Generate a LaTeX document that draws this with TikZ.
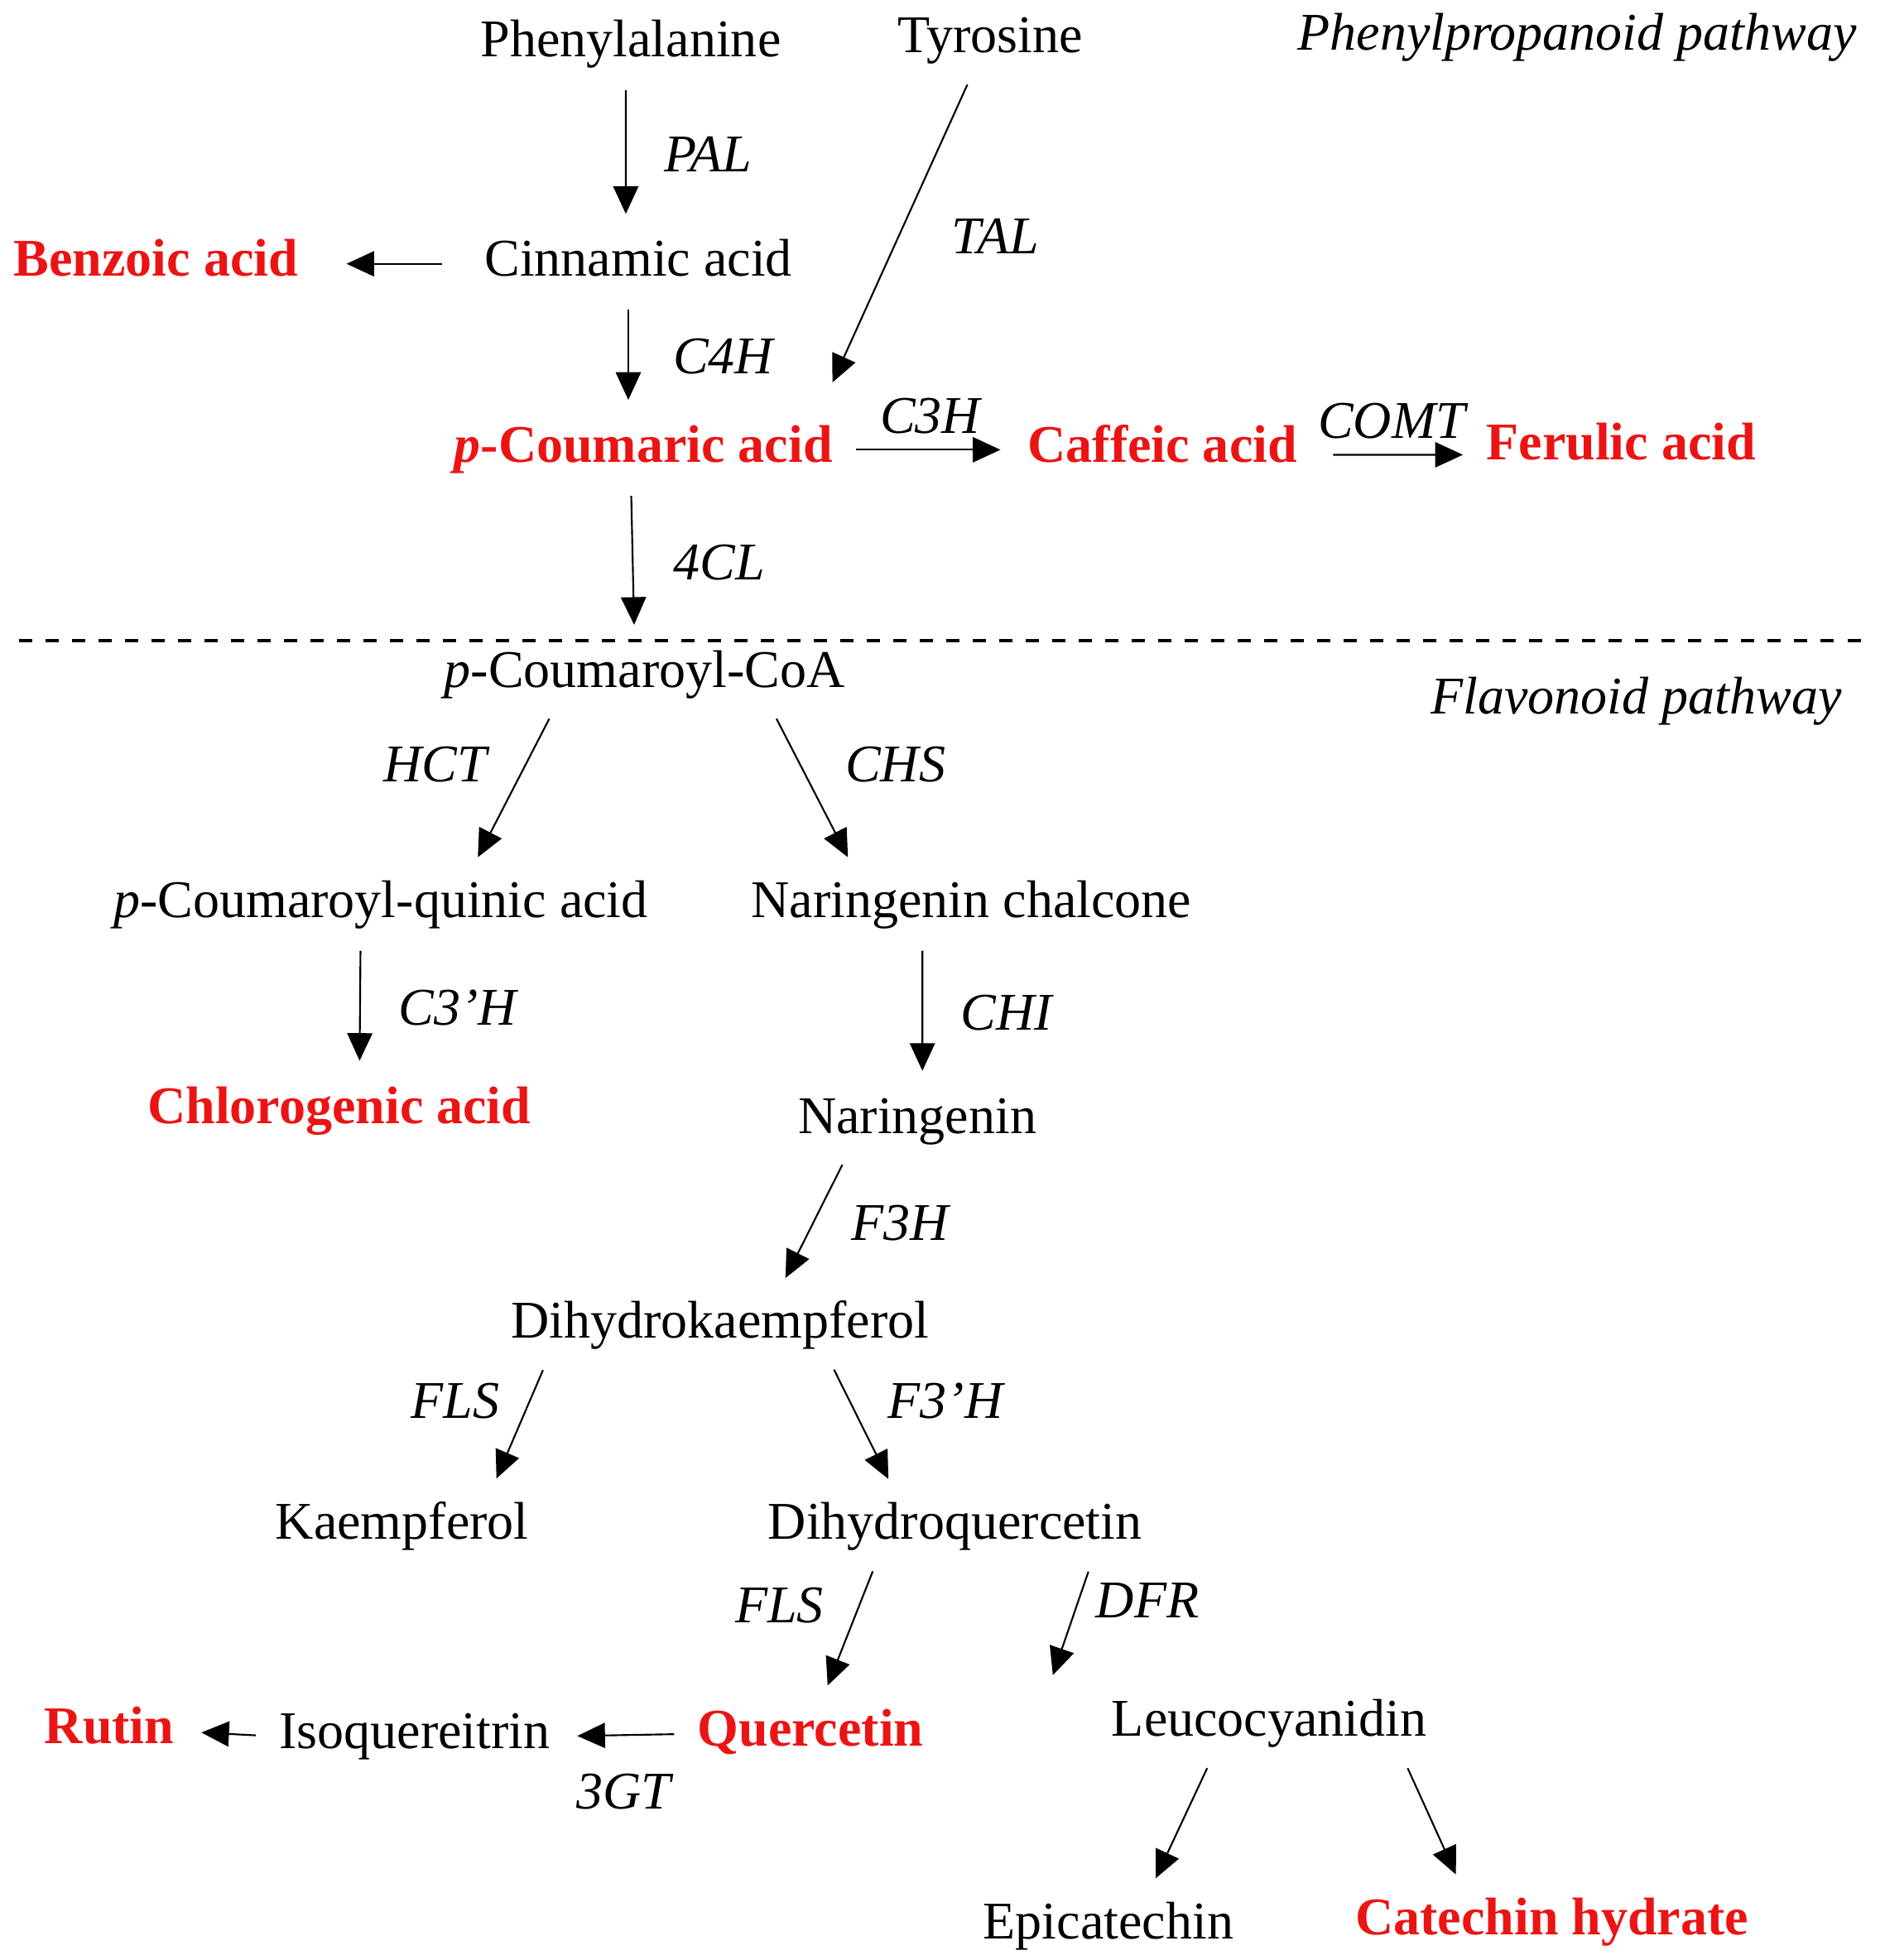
\documentclass[tikz,border=0pt]{standalone}
\usepackage{fontspec}
\setmainfont{Liberation Serif}
\usetikzlibrary{arrows.meta,positioning}
\definecolor{hl}{RGB}{235,20,20}
\tikzset{
  cpd/.style={inner sep=0.03cm, text height=0.28cm, text depth=0.08cm, font=\fontsize{12}{14}\selectfont},
  key/.style={cpd, text=hl, font=\fontsize{12}{14}\selectfont\bfseries},
  enz/.style={inner sep=0pt, font=\fontsize{12}{14}\selectfont\itshape},
  arr/.style={-{Triangle[length=0.22cm,width=0.2cm]}, shorten <=0.15cm, shorten >=0.18cm},
}
\begin{document}
\begin{tikzpicture}
	\useasboundingbox (0,0) rectangle (15,15.6);
	% phenylpropanoid part
	\node[cpd] (phe) at (5.02,15.25) {Phenylalanine};
	\node[cpd] (tyr) at (7.88,15.28) {Tyrosine};
	\node[enz] at (12.55,15.3) {Phenylpropanoid pathway};
	\node[cpd] (cin) at (5.08,13.5) {Cinnamic acid};
	\node[key] (ben) at (1.24,13.5) {Benzoic acid};
	\node[key] (pcou) at (5.12,12.02) {\textit{p}-Coumaric acid};
	\node[key] (caf) at (9.25,12.02) {Caffeic acid};
	\node[key] (fer) at (12.9,12.04) {Ferulic acid};
	\node[cpd] (coa) at (5.13,10.23) {\textit{p}-Coumaroyl-CoA};
	\draw[dashed, thick] (0.15,10.5) -- (14.9,10.5);
	% flavonoid part
	\node[enz] at (13.02,10.02) {Flavonoid pathway};
	\node[cpd] (quin) at (3.03,8.4) {\textit{p}-Coumaroyl-quinic acid};
	\node[cpd] (chal) at (7.73,8.4) {Naringenin chalcone};
	\node[key] (chl) at (2.7,6.76) {Chlorogenic acid};
	\node[cpd] (nar) at (7.3,6.68) {Naringenin};
	\node[cpd] (dhk) at (5.73,5.05) {Dihydrokaempferol};
	\node[cpd] (kae) at (3.2,3.45) {Kaempferol};
	\node[cpd] (dhq) at (7.6,3.45) {Dihydroquercetin};
	\node[key] (que) at (6.45,1.8) {Quercetin};
	\node[cpd] (iso) at (3.3,1.78) {Isoquereitrin};
	\node[key] (rut) at (0.87,1.82) {Rutin};
	\node[cpd] (leu) at (10.1,1.88) {Leucocyanidin};
	\node[cpd] (epi) at (8.82,0.27) {Epicatechin};
	\node[key] (cat) at (12.35,0.3) {Catechin hydrate};

	\draw[arr] ([xshift=-0.04cm]phe.south) -- node[enz, right=0.3cm] {PAL} ([xshift=-0.1cm]cin.north);
	\draw[arr, shorten >=0.35cm] ([xshift=-0.12cm]tyr.south) -- ([xshift=1.36cm]pcou.north);
	\node[enz] at (7.92,13.72) {TAL};
	\draw[arr, shorten <=0.3cm, shorten >=0.35cm] (cin.west) -- (ben.east);
	\draw[arr] ([xshift=-0.08cm]cin.south) -- node[enz, right=0.35cm] {C4H} ([xshift=-0.12cm]pcou.north);
	\draw[arr] (pcou.east) -- node[enz, above=0.12cm] {C3H} (caf.west);
	\draw[arr, shorten <=0.25cm, shorten >=0.15cm] ([yshift=-0.04cm]caf.east) -- node[enz, above=0.12cm] {COMT} ([yshift=-0.06cm]fer.west);
	\draw[arr] ([xshift=-0.1cm]pcou.south) -- node[enz, right=0.32cm] {4CL} ([xshift=-0.08cm]coa.north);
	\draw[arr] ([xshift=-0.69cm]coa.south) -- node[enz, above left=0.05cm and 0.2cm] {HCT} ([xshift=0.69cm]quin.north);
	\draw[arr] ([xshift=0.98cm]coa.south) -- node[enz, above right=0.05cm and 0.25cm] {CHS} ([xshift=-0.9cm]chal.north);
	\draw[arr] ([xshift=-0.16cm]quin.south) -- node[enz, right=0.3cm] {C3'H} ([xshift=0.16cm]chl.north);
	\draw[arr] ([xshift=-0.39cm]chal.south) -- node[enz, right=0.3cm] {CHI} ([xshift=0.04cm]nar.north);
	\draw[arr] ([xshift=-0.53cm]nar.south) -- node[enz, right=0.3cm] {F3H} ([xshift=0.44cm]dhk.north);
	\draw[arr] ([xshift=-1.35cm]dhk.south) -- node[enz, above left=0.05cm and 0.15cm] {FLS} ([xshift=0.68cm]kae.north);
	\draw[arr] ([xshift=0.84cm]dhk.south) -- node[enz, above right=0.05cm and 0.2cm] {F3'H} ([xshift=-0.45cm]dhq.north);
	\draw[arr] ([xshift=-0.6cm]dhq.south) -- node[enz, above left=0.05cm and 0.2cm] {FLS} ([xshift=0.07cm]que.north);
	\draw[arr] ([xshift=1.11cm]dhq.south) -- node[enz, above right=0.05cm and 0.2cm] {DFR} ([xshift=-1.78cm]leu.north);
	\draw[arr] (que.west) -- node[enz, below=0.3cm] {3GT} (iso.east);
	\draw[arr] (iso.west) -- (rut.east);
	\draw[arr] ([xshift=-0.43cm]leu.south) -- ([xshift=0.3cm]epi.north);
	\draw[arr] ([xshift=1.04cm]leu.south) -- ([xshift=-0.69cm]cat.north);
\end{tikzpicture}
\end{document}
